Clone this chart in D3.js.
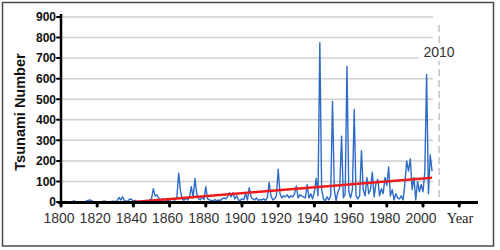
<!DOCTYPE html>
<html>
<head>
<meta charset="utf-8">
<script src="https://cdn.jsdelivr.net/npm/d3@7/dist/d3.min.js"></script>
<style>
  html, body { margin: 0; padding: 0; background: #fff; }
  svg { display: block; }
</style>
</head>
<body>
<svg id="chart" width="500" height="250"></svg>
<script>
// ---- data ----
const startYear = 1800;
const tsunamiCounts = [
  0,0,3,0,0,2,0,5,3,0,
  0,0,2,0,4,8,10,6,2,0,
  0,2,0,3,5,2,0,0,3,4,
  2,6,22,10,25,8,3,5,15,12,
  5,8,3,0,2,5,3,8,2,10,
  15,65,30,35,18,10,15,12,10,5,
  8,15,12,10,20,140,55,15,8,20,
  10,25,75,20,115,40,15,10,25,12,
  75,15,10,8,5,12,5,10,8,15,
  20,15,25,45,25,45,15,30,10,8,
  15,12,40,10,70,25,15,10,20,8,
  12,10,15,8,20,95,30,10,15,30,
  160,40,20,30,25,35,20,30,25,40,
  78,20,35,30,25,20,85,20,40,15,
  50,115,30,775,60,15,5,25,10,30,
  490,60,5,50,70,320,20,40,660,50,
  20,60,450,30,15,30,250,60,30,120,
  40,60,145,25,90,110,30,65,40,120,
  80,170,30,60,10,40,20,15,30,10,
  90,200,150,210,60,120,10,100,50,85,
  50,145,620,40,230,150
];
const years = tsunamiCounts.map((_, i) => startYear + i);
const trendYears = [1840, 2005];
const trendValues = [0, 118];
const xTickYears = [1800,1820,1840,1860,1880,1900,1920,1940,1960,1980,2000,2020];
const xTickLabels = ["1800","1820","1840","1860","1880","1900","1920","1940","1960","1980","2000",""];
const yTicks = [0,100,200,300,400,500,600,700,800,900];
const gridValues = [100,200,300,400,500,600,700,800,900];
const markerYear = 2010;
const markerLabel = "2010";
const yTitle = "Tsunami  Number";
const xTitle = "Year";

// ---- layout ----
const svg = d3.select("#chart");
const x = d3.scaleLinear().domain([1800, 2000]).range([61, 423]);
const y = d3.scaleLinear().domain([0, 900]).range([202, 17]);
const lastYear = years[years.length - 1];

// outer frame
svg.append("rect")
  .attr("x", 2.5).attr("y", 2.5).attr("width", 491).attr("height", 243.5)
  .attr("fill", "#fff").attr("stroke", "#4a4a4a").attr("stroke-width", 1.5);

// gridlines
svg.append("g").selectAll("line").data(gridValues).join("line")
  .attr("x1", x(1800)).attr("x2", x(lastYear) + 1)
  .attr("y1", d => y(d)).attr("y2", d => y(d))
  .attr("stroke", "#cfcfcf").attr("stroke-width", 1.5);

// dashed marker line
svg.append("line")
  .attr("x1", x(markerYear) - 2).attr("x2", x(markerYear) - 2)
  .attr("y1", 25).attr("y2", 199)
  .attr("stroke", "#c4c4c4").attr("stroke-width", 1.5)
  .attr("stroke-dasharray", "7,4");

// marker label with white background
svg.append("rect")
  .attr("x", x(markerYear) - 22).attr("y", 44).attr("width", 40).attr("height", 17)
  .attr("fill", "#fff");
svg.append("text")
  .attr("x", x(markerYear) - 2).attr("y", 57)
  .attr("text-anchor", "middle")
  .attr("font-family", "'Liberation Sans', Arial, sans-serif")
  .attr("font-size", 14).attr("fill", "#333")
  .text(markerLabel);

// data line
const line = d3.line().x((d, i) => x(years[i])).y(d => y(d));
svg.append("path")
  .datum(tsunamiCounts)
  .attr("d", line)
  .attr("fill", "none")
  .attr("stroke", "#2d6cc6")
  .attr("stroke-width", 1.4)
  .attr("stroke-linejoin", "round");

// trend line
svg.append("path")
  .datum(trendValues)
  .attr("d", d3.line().x((d, i) => x(trendYears[i])).y(d => y(d)))
  .attr("fill", "none")
  .attr("stroke", "#ec1c1c")
  .attr("stroke-width", 2.4);

// y axis
const yAxis = svg.append("g");
yAxis.append("line")
  .attr("x1", x(1800)).attr("x2", x(1800))
  .attr("y1", 14).attr("y2", 203)
  .attr("stroke", "#000").attr("stroke-width", 2.5);
yAxis.selectAll("line.tick").data(yTicks).join("line")
  .attr("class", "tick")
  .attr("x1", x(1800) - 4).attr("x2", x(1800))
  .attr("y1", d => y(d)).attr("y2", d => y(d))
  .attr("stroke", "#000").attr("stroke-width", 2).attr("stroke-linecap", "round");
yAxis.selectAll("text").data(yTicks).join("text")
  .attr("x", x(1800) - 5).attr("y", d => y(d) + 4.3)
  .attr("text-anchor", "end")
  .attr("font-family", "'Liberation Sans', Arial, sans-serif")
  .attr("font-weight", "bold").attr("font-size", 12).attr("fill", "#111")
  .text(d => d);

// x axis
const xAxis = svg.append("g");
xAxis.append("line")
  .attr("x1", 58).attr("x2", 478)
  .attr("y1", 202.5).attr("y2", 202.5)
  .attr("stroke", "#000").attr("stroke-width", 3);
xAxis.selectAll("line.tick").data(xTickYears).join("line")
  .attr("class", "tick")
  .attr("x1", d => x(d)).attr("x2", d => x(d))
  .attr("y1", 203).attr("y2", 206)
  .attr("stroke", "#000").attr("stroke-width", 3).attr("stroke-linecap", "round");
xAxis.selectAll("text").data(xTickYears).join("text")
  .attr("x", d => x(d) - 2).attr("y", 223)
  .attr("text-anchor", "middle")
  .attr("font-family", "'Liberation Sans', Arial, sans-serif")
  .attr("font-size", 14).attr("fill", "#333")
  .text((d, i) => xTickLabels[i]);

// axis titles
svg.append("text")
  .attr("x", 460).attr("y", 223)
  .attr("text-anchor", "middle")
  .attr("font-family", "'Liberation Serif', 'Times New Roman', serif")
  .attr("font-size", 14.5).attr("fill", "#222")
  .text(xTitle);
svg.append("text")
  .attr("transform", "translate(25,112) rotate(-90)")
  .attr("text-anchor", "middle")
  .attr("font-family", "'Liberation Sans', Arial, sans-serif")
  .attr("font-weight", "bold").attr("font-size", 14.5).attr("fill", "#111")
  .text(yTitle);
</script>
</body>
</html>
